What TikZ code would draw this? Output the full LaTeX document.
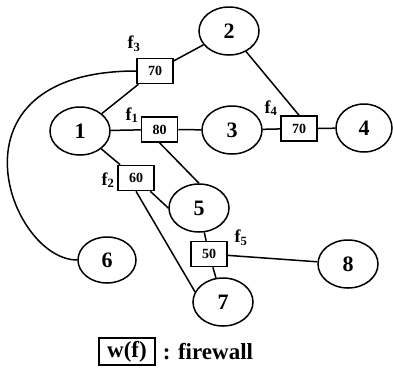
\documentclass[tikz,border=0pt]{standalone}
\usepackage{fontspec}
\setmainfont{Liberation Serif}
\usetikzlibrary{shapes.geometric}
\tikzset{
    mynode/.style = {ellipse, draw=black, line width=1.5pt, minimum width=60pt, minimum height=48pt, inner sep=0pt, font=\fontsize{22}{24}\selectfont\bfseries},
    fwnode/.style = {rectangle, draw=black, line width=1.5pt, minimum width=36pt, minimum height=25pt, inner sep=0pt, font=\fontsize{14}{16}\selectfont\bfseries},
}
\begin{document}
\begin{tikzpicture}[
	x=1pt,
	y=-1pt,
	line width=1.5pt
]
\tikzset{
    flabel/.style = {inner sep=0pt, font=\fontsize{18}{20}\selectfont\bfseries},
    edgen/.style = {-, line width=1.5pt}
}
\useasboundingbox (0,0) rectangle (393,368);
\node[mynode] at (80,131) (n1) {1};
\node[mynode] at (229,31) (n2) {2};
\node[mynode] at (232,130) (n3) {3};
\node[mynode, minimum width=56pt] at (364,128) (n4) {4};
\node[mynode] at (199,208) (n5) {5};
\node[mynode, minimum width=58pt, minimum height=46pt] at (107,260) (n6) {6};
\node[mynode] at (223,302) (n7) {7};
\node[mynode] at (348,264) (n8) {8};
%
\node[fwnode] at (159.5,129.5) (w1) {80};
\node[fwnode] at (136,178) (w2) {60};
\node[fwnode] at (155,71) (w3) {70};
\node[fwnode] at (299,128.5) (w4) {70};
\node[fwnode] at (209,254) (w5) {50};
%
\node[flabel] at (132,115) (l1) {f\textsubscript{1}};
\node[flabel] at (108,180) (l2) {f\textsubscript{2}};
\node[flabel] at (134,44) (l3) {f\textsubscript{3}};
\node[flabel] at (271,108) (l4) {f\textsubscript{4}};
\node[flabel] at (241,238) (l5) {f\textsubscript{5}};
%
\draw[edgen] (n1) -- (w1) -- (n3);
\draw[edgen] (n3) -- (w4) -- (n4);
\draw[edgen] (n1) -- (w3) -- (n2);
\draw[edgen] (n2) -- (w4.north);
\draw[edgen] (n1) -- (w2) -- (n5.west);
\draw[edgen] (w2.south) -- (n7.160);
\draw[edgen] (w1.south) -- (n5.north);
\draw[edgen] (n5) -- (w5) -- (n7);
\draw[edgen] (w5) -- (n8);
\draw[edgen] (w3.west) .. controls +(-197,0) and +(-68,0) .. (n6.west);
%
\node[fwnode, minimum width=56pt, minimum height=27pt, font=\fontsize{23}{25}\selectfont\bfseries] at (127,351.5) (lg) {w(f)};
\node[anchor=west, inner sep=0pt, font=\fontsize{23}{25}\selectfont\bfseries] at (162,352) (lgt) {: firewall};
\end{tikzpicture}
\end{document}
